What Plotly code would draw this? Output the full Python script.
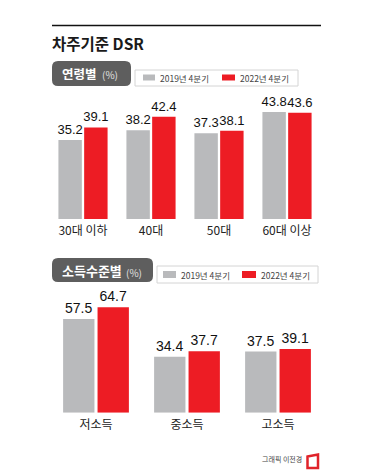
import plotly.graph_objects as go

W, H = 373, 470
FONT = "Noto Sans CJK KR"
NUM = "Liberation Sans, Arial"
GRAY, RED = "#b9babc", "#ed1c24"
DARK = "#5e5e5e"
TXT = "#222222"

series_names = ["2019년 4분기", "2022년 4분기"]
age_cats = ["30대 이하", "40대", "50대", "60대 이상"]
age_2019 = [35.2, 38.2, 37.3, 43.8]
age_2022 = [39.1, 42.4, 38.1, 43.6]
inc_cats = ["저소득", "중소득", "고소득"]
inc_2019 = [57.5, 34.4, 37.5]
inc_2022 = [64.7, 37.7, 39.1]


def fx(p):
    return p / W


def fy(p):
    return 1 - p / H


fig = go.Figure()
for name, vals, col in zip(series_names, [age_2019, age_2022], [GRAY, RED]):
    fig.add_bar(x=age_cats, y=vals, name=name, marker=dict(color=col, line_width=0),
                text=[f"{v:.1f}" for v in vals], textposition="outside", cliponaxis=False,
                constraintext="none", textfont=dict(family=NUM, size=13, color="#111111"),
                xaxis="x", yaxis="y", showlegend=False)
for name, vals, col in zip(series_names, [inc_2019, inc_2022], [GRAY, RED]):
    fig.add_bar(x=inc_cats, y=vals, name=name, marker=dict(color=col, line_width=0),
                text=[f"{v:.1f}" for v in vals], textposition="outside", cliponaxis=False,
                constraintext="none", textfont=dict(family=NUM, size=14, color="#111111"),
                xaxis="x2", yaxis="y2", showlegend=False, offsetgroup=name)

shapes = [
    dict(type="line", xref="paper", yref="paper", x0=fx(52), x1=fx(321), y0=fy(25.5), y1=fy(25.5),
         line=dict(color="#111111", width=1.5)),
]


def pill(x0, x1, y0, y1, r=6):
    a0, a1, b0, b1 = fx(x0), fx(x1), fy(y0), fy(y1)
    rx, ry = r / W, r / H
    path = (f"M{a0+rx},{b0} L{a1-rx},{b0} Q{a1},{b0} {a1},{b0-ry} L{a1},{b1+ry} Q{a1},{b1} {a1-rx},{b1} "
            f"L{a0+rx},{b1} Q{a0},{b1} {a0},{b1+ry} L{a0},{b0-ry} Q{a0},{b0} {a0+rx},{b0} Z")
    return dict(type="path", xref="paper", yref="paper", path=path, fillcolor=DARK, line_width=0)


def rect(x0, x1, y0, y1, fill, line=None):
    return dict(type="rect", xref="paper", yref="paper", x0=fx(x0), x1=fx(x1), y0=fy(y0), y1=fy(y1),
                fillcolor=fill, line=dict(color=line or fill, width=1 if line else 0))


logo = (f"M{fx(307.5)},{fy(456.5)} L{fx(318)},{fy(454.5)} L{fx(318)},{fy(468)} L{fx(307.5)},{fy(468)} Z")

shapes += [
    pill(52, 131, 61, 86),
    rect(135, 298, 70, 86, "#ffffff", "#d4d4d4"),
    rect(143, 155, 74.5, 80.5, GRAY),
    rect(222, 235, 74.5, 80.5, RED),
    pill(52, 153, 258, 282),
    rect(157, 318, 266, 283, "#ffffff", "#d4d4d4"),
    rect(163, 176, 271, 278, GRAY),
    rect(242, 256, 271, 278, RED),
    dict(type="path", xref="paper", yref="paper", path=logo, fillcolor="#ffffff",
         line=dict(color="#e0232a", width=2.5)),
]


def note(x, y, text, size, color=TXT, anchor="left", family=FONT):
    return dict(xref="paper", yref="paper", x=fx(x), y=fy(y), text=text, showarrow=False,
                xanchor=anchor, yanchor="middle", borderpad=0, borderwidth=0,
                font=dict(family=family, size=size, color=color))


annotations = [
    note(51.5, 43, "<b>차주기준 DSR</b>", 15.5, "#1a1a1a"),
    note(62, 73, "<b>연령별</b>", 12.5, "#ffffff"),
    note(102, 75, "(%)", 10, "#e0e0e0"),
    note(160, 77.5, series_names[0], 8.5, "#444444"),
    note(240, 77.5, series_names[1], 8.5, "#444444"),
    note(62, 270, "<b>소득수준별</b>", 13, "#ffffff"),
    note(126, 272, "(%)", 10, "#e0e0e0"),
    note(181, 274.5, series_names[0], 8.5, "#444444"),
    note(261, 274.5, series_names[1], 8.5, "#444444"),
    note(302, 459, "그래픽 이전경", 7, "#444444", anchor="right"),
]

tick = dict(family=FONT, size=12, color="#222222")
fig.update_layout(
    width=W, height=H, margin=dict(l=0, r=0, t=0, b=0), paper_bgcolor="white", plot_bgcolor="white",
    barmode="group", bargap=0.243, bargroupgap=0.09,
    shapes=shapes, annotations=annotations, showlegend=False,
    xaxis=dict(domain=[fx(49), fx(321)], anchor="y", showgrid=False, zeroline=False, showline=False,
               ticks="outside", ticklen=1, tickcolor="rgba(0,0,0,0)", tickfont=tick,
               categoryorder="array", categoryarray=age_cats, fixedrange=True),
    yaxis=dict(domain=[fy(219), fy(100)], anchor="x", range=[11, 11 + 119 / 3.26], visible=False, fixedrange=True),
    xaxis2=dict(domain=[fx(50.5), fx(323.5)], anchor="y2", showgrid=False, zeroline=False, showline=False,
                ticks="outside", ticklen=1, tickcolor="rgba(0,0,0,0)", tickfont=tick,
                categoryorder="array", categoryarray=inc_cats, fixedrange=True),
    yaxis2=dict(domain=[fy(412.7), fy(290)], anchor="x2", range=[0, 122.7 / 1.63], visible=False, fixedrange=True),
    font=dict(family=FONT),
)
fig.write_html("out.html", post_script="document.body.style.margin='0';", config=dict(displayModeBar=False))
